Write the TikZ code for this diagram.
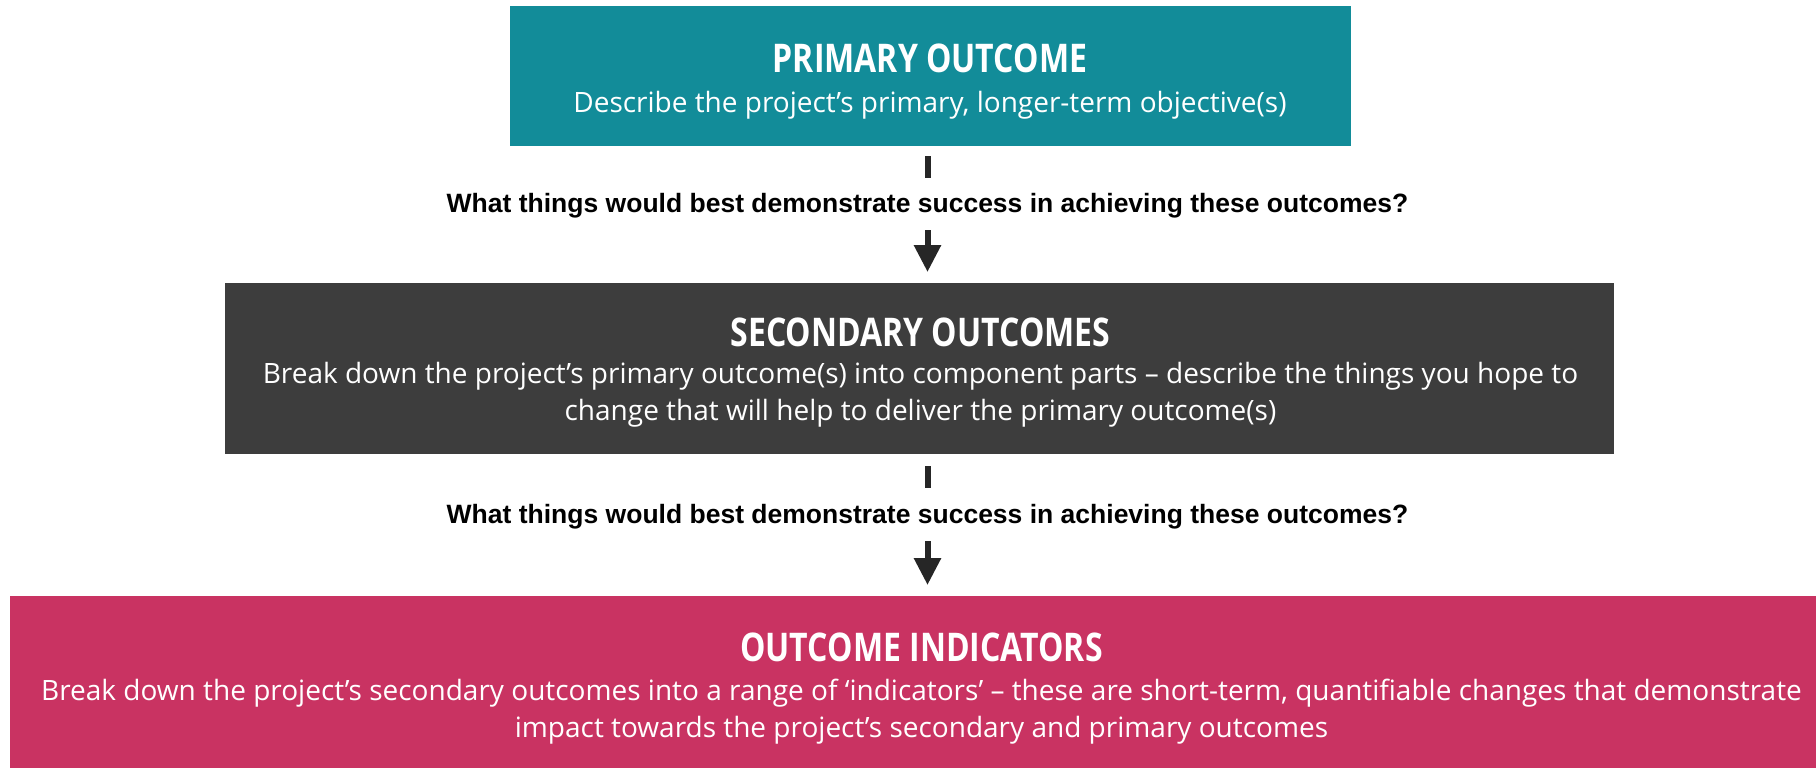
\documentclass[tikz,border=0pt]{standalone}
\usepackage{fontspec}
\setmainfont{Open Sans}
\newfontfamily\bodyfont{Open Sans}
\newfontfamily\titlefont[FakeStretch=0.81]{Open Sans}
\newfontfamily\qfont{Liberation Sans}
\usetikzlibrary{arrows.meta}
\definecolor{tealbox}{RGB}{18,140,153}
\definecolor{darkbox}{RGB}{61,61,61}
\definecolor{pinkbox}{RGB}{201,51,98}
\definecolor{arrowcol}{RGB}{38,38,38}
\tikzset{
  box/.style={draw=none, inner sep=0pt, outer sep=0pt},
  ttl/.style={text=white, inner sep=0pt, anchor=base, font=\titlefont\bfseries\fontsize{39.5}{42}\selectfont},
  bdy/.style={text=white, inner sep=0pt, anchor=base, font=\bodyfont\fontsize{28}{37}\selectfont},
  qtext/.style={text=black, inner sep=0pt, anchor=base, font=\qfont\bfseries\fontsize{26.5}{30}\selectfont},
  barline/.style={draw=arrowcol, line width=6pt},
  flowarrow/.style={draw=arrowcol, line width=6pt, -{Triangle[width=26pt,length=27pt]}}
}
\begin{document}
\begin{tikzpicture}[x=1pt,y=-1pt]
\useasboundingbox (0,0) rectangle (1816,768);
% boxes
\node[box, fill=tealbox, minimum width=841pt, minimum height=140pt] (prim) at (930,76) {};
\node[box, fill=darkbox, minimum width=1389pt, minimum height=171pt] (sec) at (919.5,368.5) {};
\node[box, fill=pinkbox, minimum width=1820pt, minimum height=174pt] (ind) at (920.3,683) {};
% texts
\node[ttl] (primT) at (930,72.7) {PRIMARY OUTCOME};
\node[bdy] (primB) at (930,112) {Describe the project’s primary, longer-term objective(s)};
\node[ttl] (secT) at (920.5,346) {SECONDARY OUTCOMES};
\node[bdy] (secB1) at (920.5,383) {Break down the project’s primary outcome(s) into component parts – describe the things you hope to};
\node[bdy] (secB2) at (920.5,420) {change that will help to deliver the primary outcome(s)};
\node[ttl] (indT) at (921.5,661) {OUTCOME INDICATORS};
\node[bdy] (indB1) at (921.5,700) {Break down the project’s secondary outcomes into a range of ‘indicators’ – these are short-term, quantifiable changes that demonstrate};
\node[bdy] (indB2) at (921.5,737) {impact towards the project’s secondary and primary outcomes};
% questions
\node[qtext] (q1) at (927.5,212) {What things would best demonstrate success in achieving these outcomes?};
\node[qtext] (q2) at (927.5,523) {What things would best demonstrate success in achieving these outcomes?};
% connectors
\coordinate (b1s) at (927.5,156);
\coordinate (b1e) at (927.5,178);
\coordinate (a1s) at (927.5,230);
\coordinate (a1e) at (927.5,272);
\coordinate (b2s) at (927.5,466);
\coordinate (b2e) at (927.5,488);
\coordinate (a2s) at (927.5,541);
\coordinate (a2e) at (927.5,585);
\draw[barline] (b1s) -- (b1e);
\draw[flowarrow] (a1s) -- (a1e);
\draw[barline] (b2s) -- (b2e);
\draw[flowarrow] (a2s) -- (a2e);
\end{tikzpicture}
\end{document}
